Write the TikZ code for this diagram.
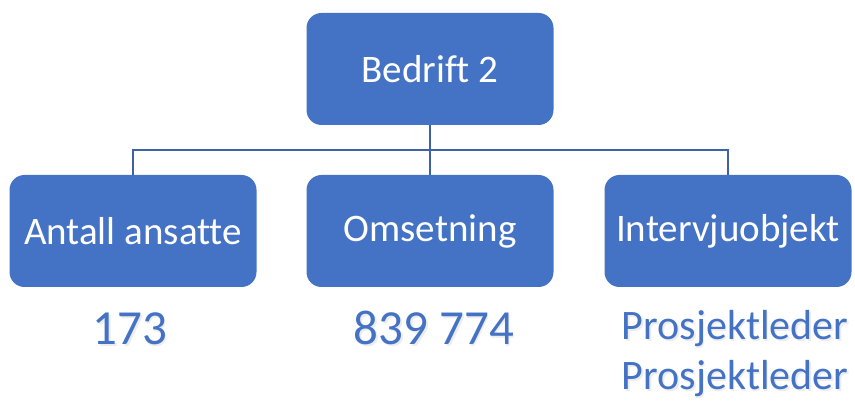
\documentclass[tikz,border=0pt]{standalone}
\usepackage{fontspec}
\setmainfont{Carlito}[Ligatures=NoCommon]
\definecolor{boxblue}{HTML}{4472C4}
\definecolor{linkblue}{HTML}{3D62A8}
\begin{document}
\begin{tikzpicture}[x=1pt,y=-1pt,
  orgbox/.style={rectangle, rounded corners=15pt, fill=boxblue, draw=none,
    minimum width=247pt, minimum height=112pt, inner sep=0pt,
    text=white, font=\fontsize{39}{45}\selectfont},
  link/.style={draw=linkblue, line width=1.8pt},
  value/.style={text=boxblue, anchor=base, inner sep=0pt},
  valshadow/.style={text=black!20, opacity=0.35, anchor=base, inner sep=0pt}]
\useasboundingbox (0,0) rectangle (855,403);
% boxes
\node[orgbox] (top) at (430,69) {Bedrift 2};
\node[orgbox] (ans) at (133,231) {Antall ansatte};
\node[orgbox] (oms) at (430,231) {Omsetning};
\node[orgbox] (int) at (728,231) {Intervjuobjekt};
% connectors
\coordinate (bus) at (430,150);
\draw[link] (top.south) -- (bus);
\draw[link] (ans.north) |- (bus) -| (int.north);
\draw[link] (bus) -- (oms.north);
% values below the boxes, with a faint drop shadow
\begin{scope}[font=\fontsize{49}{56}\selectfont]
  \node[valshadow] at (131.5,346.5) {173};
  \node[value] (v1) at (130,345) {173};
  \node[valshadow] at (435.5,346.5) {839 774};
  \node[value] (v2) at (434,345) {839 774};
\end{scope}
\begin{scope}[font=\fontsize{42}{48}\selectfont]
  \node[valshadow] at (736.5,341.5) {Prosjektleder};
  \node[value] (v3) at (735,340) {Prosjektleder};
  \node[valshadow] at (736.5,391.5) {Prosjektleder};
  \node[value] (v4) at (735,390) {Prosjektleder};
\end{scope}
\end{tikzpicture}
\end{document}
